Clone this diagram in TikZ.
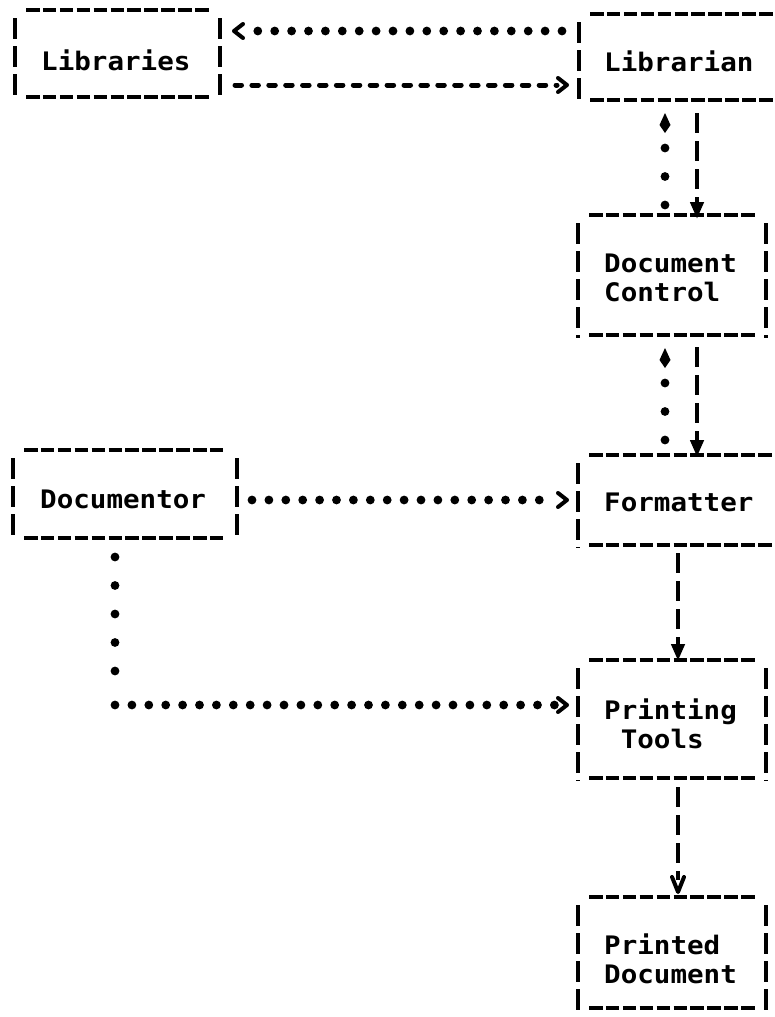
\documentclass[tikz,border=0pt]{standalone}
\usepackage{fontspec}
\newfontfamily\asciifnt[FakeStretch=1.08]{DejaVu Sans Mono}
\usetikzlibrary{arrows.meta,calc,decorations.markings}
\newcommand\asciibox[5]{%
  \node[boxshape, minimum width={#4-#2}, minimum height={#5-#3}] (#1) at ({(#2+#4)/2},{(#3+#5)/2}) {};
  \draw[hline] ($(#1.north west)+(11,0)$) -- ($(#1.north east)+(-11,0)$);
  \draw[hline] ($(#1.south west)+(11,0)$) -- ($(#1.south east)+(-11,0)$);
  \draw[vline] ($(#1.north west)+(0,8)$) -- ($(#1.south west)+(0,3)$);
  \draw[vline] ($(#1.north east)+(0,8)$) -- ($(#1.south east)+(0,3)$);
}
\begin{document}
\begin{tikzpicture}[x=1pt,y=-1pt,
  boxshape/.style={rectangle, draw=none, inner sep=0pt, outer sep=0pt},
  hline/.style={line width=4.2pt, dash pattern=on 13.5pt off 3.4pt},
  vline/.style={line width=4.2pt, dash pattern=on 21pt off 7pt},
  dotH/.style={line width=8.8pt, line cap=round, dash pattern=on 0pt off 16.9pt},
  dotV/.style={line width=8.8pt, line cap=round, dash pattern=on 0pt off 28.5pt},
  dashH/.style={line width=5pt, line cap=round, dash pattern=on 6.5pt off 10.4pt},
  dashV/.style={line width=4.2pt, dash pattern=on 20pt off 8pt},
  lbl/.style={font=\asciifnt\bfseries\fontsize{25.5}{28.5}\selectfont, inner sep=0pt, anchor=west, align=left},
  barbhead/.style={shorten >=#1, postaction={decorate, decoration={markings,
      mark=at position 1 with {\arrow{Straight Barb[length=9pt,width=14pt,line width=4pt,round]}}}}},
  vhead/.style={shorten >=#1, postaction={decorate, decoration={markings,
      mark=at position 1 with {\arrow{Straight Barb[length=15pt,width=12pt,line width=4pt,round]}}}}},
  uphead/.style={-{Kite[length=20pt,width=11pt,inset=8pt]}},
  downhead/.style={-{Triangle[length=17pt,width=13pt]}},
]
\useasboundingbox (0,0) rectangle (775,1017);

% boxes
\asciibox{lib}{15}{10}{220}{97}
\asciibox{lbn}{579}{14}{800}{100}
\asciibox{dc}{578}{215}{766}{335}
\asciibox{doc}{13}{450}{237}{538}
\asciibox{fmt}{578}{455}{800}{545}
\asciibox{pt}{578}{660}{766}{778}
\asciibox{pd}{578}{897}{766}{1008}

% labels
\node[lbl] (lib-t) at (41,60) {Libraries};
\node[lbl] (lbn-t) at (604,61) {Librarian};
\node[lbl] (dc-t) at (604,278) {Document\\Control};
\node[lbl] (doc-t) at (40,499) {Documentor};
\node[lbl] (fmt-t) at (604,502) {Formatter};
\node[lbl] (pt-t) at (604,724) {Printing\\~Tools};
\node[lbl] (pd-t) at (604,959) {Printed\\Document};

% Librarian <-> Libraries
\draw[dotH, barbhead=12pt] ($(lbn.west)+(-17,-26)$) -- ($(lib.east |- lbn.west)+(12,-26)$);
\draw[dashH, barbhead=12pt] ($(lib.east |- lbn.west)+(15,28)$) -- ($(lbn.west)+(-10,28)$);

% Librarian <-> Document Control
\draw[dotV, uphead] ($(dc.north)+(-7,-10)$) -- ($(lbn.south -| dc.north)+(-7,13)$);
\draw[dashV, downhead] ($(lbn.south -| dc.north)+(25,13)$) -- ($(dc.north)+(25,4)$);

% Document Control <-> Formatter
\draw[dotV, uphead] ($(fmt.north -| dc.north)+(-7,-15)$) -- ($(dc.south)+(-7,13)$);
\draw[dashV, downhead] ($(dc.south)+(25,12)$) -- ($(fmt.north -| dc.north)+(25,2)$);

% Documentor -> Formatter
\draw[dotH, barbhead=14pt] ($(doc.east)+(15,6)$) -- ($(fmt.west |- doc.east)+(-9,6)$);

% Documentor -> Printing Tools
\coordinate (hk) at ($(doc.south |- pt.west)+(-10,-14)$);
\draw[dotV] ($(doc.south)+(-10,19)$) -- ($(hk)+(0,-25)$);
\draw[dotH, barbhead=12pt] (hk) -- ($(pt.west |- hk)+(-9,0)$);

% Formatter -> Printing Tools
\draw[dashV, downhead] ($(fmt.south -| dc.north)+(6,8)$) -- ($(pt.north)+(6,1)$);

% Printing Tools -> Printed Document
\draw[dashV, vhead=14pt] ($(pt.south)+(6,9)$) -- ($(pd.north)+(6,-3)$);
\end{tikzpicture}
\end{document}
